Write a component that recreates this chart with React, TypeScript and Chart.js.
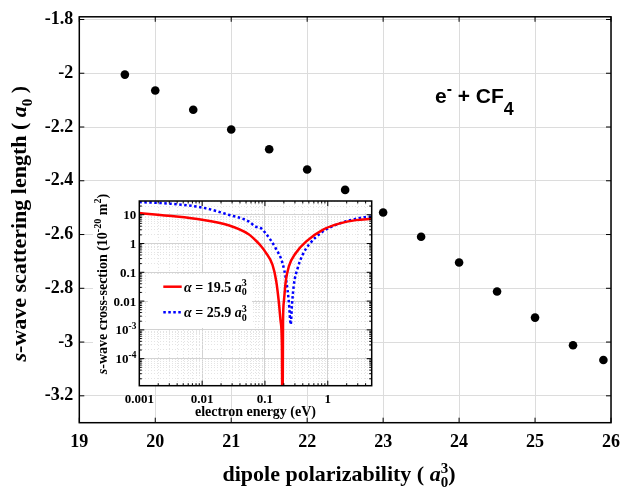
import React, { useEffect, useRef } from "react";
import { Chart, registerables } from "chart.js";

Chart.register(...registerables);

// ---------------- data ----------------
const polarizability = [19.6, 20, 20.5, 21, 21.5, 22, 22.5, 23, 23.5, 24, 24.5, 25, 25.5, 25.9];
const scatteringLength = [-2.005, -2.064, -2.136, -2.209, -2.283, -2.358, -2.434, -2.518, -2.608, -2.704, -2.812, -2.909, -3.012, -3.067];
const mainXTicks = [19, 20, 21, 22, 23, 24, 25, 26];
const mainYTicks = [-1.8, -2, -2.2, -2.4, -2.6, -2.8, -3, -3.2];

// inset: alpha = 19.5 a0^3 (red)
const energyRed = [0.001, 0.00288, 0.01, 0.0263, 0.055, 0.0708, 0.0851, 0.102, 0.132, 0.151, 0.166, 0.178, 0.186, 0.19, 0.194, 0.2, 0.214, 0.24, 0.31, 0.45, 0.83, 1.51, 2.82, 5];
const sigmaRed = [11.5, 9.2, 6.7, 4.3, 2.1, 1.3, 0.85, 0.5, 0.18, 0.05, 0.0096, 0.0019, 0.0003, 1e-7, 0.0019, 0.0096, 0.048, 0.16, 0.47, 1.17, 3.0, 4.9, 6.5, 7.2];
// inset: alpha = 25.9 a0^3 (blue)
const energyBlue = [0.001, 0.00288, 0.01, 0.0263, 0.055, 0.0708, 0.0851, 0.102, 0.148, 0.19, 0.219, 0.24, 0.257, 0.269, 0.288, 0.331, 0.398, 0.5, 0.83, 1.51, 2.82, 4.57, 5];
const sigmaBlue = [27.5, 24.5, 17.8, 10, 5.9, 3.9, 3.5, 2.3, 0.69, 0.21, 0.048, 0.0096, 0.00155, 0.0072, 0.036, 0.138, 0.41, 0.9, 2.6, 4.9, 7.2, 8.5, 8.2];

const insetXTicks = [0.001, 0.01, 0.1, 1];
const insetXLabels = ["0.001", "0.01", "0.1", "1"];
const insetYTicks = [10, 1, 0.1, 0.01, 0.001, 0.0001];
const insetYBase = ["10", "1", "0.1", "0.01", "10", "10"];
const insetYExp = ["", "", "", "", "-3", "-4"];

const SERIF = '"Liberation Serif", "Times New Roman", serif';
const SANS = '"Liberation Sans", Arial, sans-serif';

// ---------------- rich text helper ----------------
interface Seg {
  t?: string;
  it?: boolean;
  sc?: number;
  sup?: string;
  sub?: string;
  supDy?: number;
  subDy?: number;
}

function fontOf(size: number, it: boolean, family: string) {
  return `${it ? "italic " : ""}bold ${size}px ${family}`;
}

function segWidth(ctx: CanvasRenderingContext2D, s: Seg, size: number, family: string) {
  if (s.t !== undefined) {
    ctx.font = fontOf(size * (s.sc ?? 1), !!s.it, family);
    return ctx.measureText(s.t).width;
  }
  ctx.font = fontOf(size * (s.sc ?? 0.68), false, family);
  return Math.max(s.sup ? ctx.measureText(s.sup).width : 0, s.sub ? ctx.measureText(s.sub).width : 0);
}

function drawRich(
  ctx: CanvasRenderingContext2D,
  segs: Seg[],
  x: number,
  y: number,
  size: number,
  family: string,
  align: "left" | "center" | "right"
) {
  const widths = segs.map((s) => segWidth(ctx, s, size, family));
  const total = widths.reduce((a, b) => a + b, 0);
  let cx = align === "center" ? x - total / 2 : align === "right" ? x - total : x;
  ctx.textAlign = "left";
  ctx.textBaseline = "alphabetic";
  segs.forEach((s, i) => {
    if (s.t !== undefined) {
      ctx.font = fontOf(size * (s.sc ?? 1), !!s.it, family);
      ctx.fillText(s.t, cx, y);
    } else {
      ctx.font = fontOf(size * (s.sc ?? 0.68), false, family);
      if (s.sup) ctx.fillText(s.sup, cx, y - size * (s.supDy ?? 0.38));
      if (s.sub) ctx.fillText(s.sub, cx, y + size * (s.subDy ?? 0.28));
    }
    cx += widths[i];
  });
}

// ---------------- texts ----------------
const yTitle: Seg[] = [{ t: "s", it: true }, { t: "-wave scattering length ( " }, { t: "a", it: true }, { sub: "0" }, { t: " )" }];
const xTitle: Seg[] = [{ t: "dipole polarizability ( " }, { t: "a", it: true }, { sup: "3", sub: "0" }, { t: ")" }];
const annotation: Seg[] = [
  { t: "e" },
  { sup: "-", sc: 0.75, supDy: 0.45 },
  { t: " + CF" },
  { sub: "4", sc: 0.85, subDy: 0.55 },
];
const insetYTitle: Seg[] = [
  { t: "s", it: true },
  { t: "-wave cross-section (10" },
  { sup: "-20", sc: 0.72, supDy: 0.4 },
  { t: " m" },
  { sup: "2", sc: 0.72, supDy: 0.4 },
  { t: ")" },
];
const insetXTitle: Seg[] = [{ t: "electron energy (eV)" }];
const legendRed: Seg[] = [{ t: "α", it: true }, { t: " = 19.5 " }, { t: "a", it: true }, { sup: "3", sub: "0", sc: 0.72 }];
const legendBlue: Seg[] = [{ t: "α", it: true }, { t: " = 25.9 " }, { t: "a", it: true }, { sup: "3", sub: "0", sc: 0.72 }];

// ---------------- helpers ----------------
function isDecade(v: number) {
  const l = Math.log10(v);
  return Math.abs(l - Math.round(l)) < 1e-6;
}
function isLogStep(v: number) {
  const e = Math.floor(Math.log10(v) + 1e-9);
  const m = v / Math.pow(10, e);
  return Math.abs(m - Math.round(m)) < 1e-6;
}

const mainDecor = {
  id: "mainDecor",
  afterDraw(chart: any) {
    const { ctx, chartArea: a, scales } = chart;
    const xs = scales.x;
    const ys = scales.y;
    ctx.save();
    ctx.strokeStyle = "#000";
    ctx.lineWidth = 1;
    ctx.beginPath();
    mainXTicks.forEach((v) => {
      const px = xs.getPixelForValue(v);
      ctx.moveTo(px, a.bottom);
      ctx.lineTo(px, a.bottom - 5);
      ctx.moveTo(px, a.top);
      ctx.lineTo(px, a.top + 5);
    });
    mainYTicks.forEach((v) => {
      const py = ys.getPixelForValue(v);
      ctx.moveTo(a.left, py);
      ctx.lineTo(a.left + 5, py);
      ctx.moveTo(a.right, py);
      ctx.lineTo(a.right - 5, py);
    });
    ctx.stroke();
    ctx.lineWidth = 1.5;
    ctx.strokeRect(a.left, a.top, a.right - a.left, a.bottom - a.top);
    ctx.fillStyle = "#000";
    ctx.save();
    ctx.translate(25.5, (a.top + a.bottom) / 2 + 4);
    ctx.rotate(-Math.PI / 2);
    drawRich(ctx, yTitle, 0, 0, 22, SERIF, "center");
    ctx.restore();
    drawRich(ctx, xTitle, 339, 481, 22, SERIF, "center");
    drawRich(ctx, annotation, 435, 103, 21, SANS, "left");
    ctx.restore();
  },
};

const insetDecor = {
  id: "insetDecor",
  beforeDraw(chart: any) {
    const { ctx, chartArea: a } = chart;
    ctx.save();
    ctx.fillStyle = "#fff";
    ctx.fillRect(8, 5, a.left - 8, a.bottom - 5);
    ctx.fillRect(a.left, a.top, a.right - a.left, a.bottom - a.top);
    ctx.restore();
  },
  afterDatasetsDraw(chart: any) {
    const { ctx } = chart;
    // legend
    ctx.save();
    ctx.fillStyle = "#fff";
    ctx.fillRect(63, 94, 104, 54);
    ctx.lineWidth = 2.5;
    ctx.strokeStyle = "#ff0000";
    ctx.beginPath();
    ctx.moveTo(78.3, 106.7);
    ctx.lineTo(96.7, 106.7);
    ctx.stroke();
    ctx.strokeStyle = "#0000ff";
    ctx.setLineDash([2.5, 2.5]);
    ctx.beginPath();
    ctx.moveTo(78.3, 132.3);
    ctx.lineTo(96.7, 132.3);
    ctx.stroke();
    ctx.setLineDash([]);
    ctx.fillStyle = "#000";
    drawRich(ctx, legendRed, 99, 111.5, 14, SERIF, "left");
    drawRich(ctx, legendBlue, 99, 137, 14, SERIF, "left");
    ctx.restore();
  },
  afterDraw(chart: any) {
    const { ctx, chartArea: a, scales } = chart;
    const xs = scales.x;
    const ys = scales.y;
    ctx.save();
    ctx.strokeStyle = "#000";
    ctx.lineWidth = 1;
    ctx.beginPath();
    xs.ticks.forEach((t: any) => {
      const px = xs.getPixelForValue(t.value);
      if (px < a.left + 0.5 || px > a.right - 0.5) return;
      const len = isDecade(t.value) ? 5 : 2.5;
      ctx.moveTo(px, a.bottom);
      ctx.lineTo(px, a.bottom - len);
      ctx.moveTo(px, a.top);
      ctx.lineTo(px, a.top + len);
    });
    ys.ticks.forEach((t: any) => {
      const py = ys.getPixelForValue(t.value);
      if (py < a.top + 0.5 || py > a.bottom - 0.5) return;
      const len = isDecade(t.value) ? 5 : 2.5;
      ctx.moveTo(a.left, py);
      ctx.lineTo(a.left + len, py);
      ctx.moveTo(a.right, py);
      ctx.lineTo(a.right - len, py);
    });
    ctx.stroke();
    ctx.lineWidth = 1.5;
    ctx.strokeRect(a.left, a.top, a.right - a.left, a.bottom - a.top);
    ctx.fillStyle = "#000";
    insetXTicks.forEach((v, i) => {
      drawRich(ctx, [{ t: insetXLabels[i] }], xs.getPixelForValue(v), a.bottom + 17, 13, SERIF, "center");
    });
    insetYTicks.forEach((v, i) => {
      const py = ys.getPixelForValue(v);
      const segs: Seg[] = insetYExp[i]
        ? [{ t: insetYBase[i] }, { sup: insetYExp[i], sc: 0.72, supDy: 0.42 }]
        : [{ t: insetYBase[i] }];
      drawRich(ctx, segs, a.left - 3, py + 4.5, 13, SERIF, "right");
    });
    drawRich(ctx, insetXTitle, (a.left + a.right) / 2, 236, 14, SERIF, "center");
    ctx.save();
    ctx.translate(22, 104);
    ctx.rotate(-Math.PI / 2);
    drawRich(ctx, insetYTitle, 0, 0, 14, SERIF, "center");
    ctx.restore();
    ctx.restore();
  },
};

const gridColor = (c: any) => (c.tick && !isDecade(c.tick.value) ? "#e4e4e4" : "#d2d2d2");
const gridDash = (c: any) => (c.tick && !isDecade(c.tick.value) ? [1, 2] : []);

export default function App() {
  const mainRef = useRef<HTMLCanvasElement>(null);
  const insetRef = useRef<HTMLCanvasElement>(null);

  useEffect(() => {
    const tickFont = { family: SERIF, size: 18, weight: "bold" as const };
    const main = new Chart(mainRef.current!, {
      type: "scatter",
      data: {
        datasets: [
          {
            data: polarizability.map((x, i) => ({ x, y: scatteringLength[i] })),
            pointRadius: 4.3,
            pointBackgroundColor: "#000",
            pointBorderColor: "#000",
            pointBorderWidth: 0,
            showLine: false,
          },
        ],
      },
      options: {
        responsive: false,
        animation: false,
        devicePixelRatio: 1,
        layout: { padding: { left: 0, top: 12.7, right: 7.3, bottom: 0 } },
        plugins: { legend: { display: false }, tooltip: { enabled: false } },
        scales: {
          x: {
            type: "linear",
            min: 19,
            max: 26,
            afterBuildTicks: (s: any) => {
              s.ticks = mainXTicks.map((v) => ({ value: v }));
            },
            afterFit: (s: any) => {
              s.height = 70.3;
            },
            grid: { color: "#dcdcdc", lineWidth: 1, drawTicks: false },
            border: { display: false },
            ticks: {
              padding: 9,
              font: tickFont,
              color: "#000",
              maxRotation: 0,
              autoSkip: false,
              callback: (v: any) => String(v),
            },
          },
          y: {
            type: "linear",
            min: -3.3,
            max: -1.79,
            afterBuildTicks: (s: any) => {
              s.ticks = mainYTicks.map((v) => ({ value: v }));
            },
            afterFit: (s: any) => {
              s.width = 79.3;
            },
            grid: { color: "#dcdcdc", lineWidth: 1, drawTicks: false },
            border: { display: false },
            ticks: {
              padding: 6,
              font: tickFont,
              color: "#000",
              autoSkip: false,
              callback: (v: any) => String(parseFloat(Number(v).toFixed(2))),
            },
          },
        },
      },
      plugins: [mainDecor],
    });

    const inset = new Chart(insetRef.current!, {
      type: "scatter",
      data: {
        datasets: [
          {
            data: energyRed.map((x, i) => ({ x, y: sigmaRed[i] })),
            borderColor: "#ff0000",
            borderWidth: 2.5,
            pointRadius: 0,
            showLine: true,
            fill: false,
            cubicInterpolationMode: "monotone",
            clip: 0,
          },
          {
            data: energyBlue.map((x, i) => ({ x, y: sigmaBlue[i] })),
            borderColor: "#0000ff",
            borderWidth: 2.5,
            borderDash: [2.5, 2.5],
            pointRadius: 0,
            showLine: true,
            fill: false,
            cubicInterpolationMode: "monotone",
            clip: 0,
          },
        ],
      },
      options: {
        responsive: false,
        animation: false,
        devicePixelRatio: 1,
        layout: { padding: { left: 0, top: 21, right: 8.3, bottom: 0 } },
        plugins: { legend: { display: false }, tooltip: { enabled: false } },
        scales: {
          x: {
            type: "logarithmic",
            min: 0.001,
            max: 5,
            afterBuildTicks: (s: any) => {
              s.ticks = s.ticks.filter((t: any) => isLogStep(t.value));
            },
            afterFit: (s: any) => {
              s.height = 39.3;
            },
            grid: { color: gridColor, lineWidth: 1, drawTicks: false },
            border: { display: false, dash: gridDash },
            ticks: { display: false },
          },
          y: {
            type: "logarithmic",
            min: 1.15e-5,
            max: 30,
            afterBuildTicks: (s: any) => {
              s.ticks = s.ticks.filter((t: any) => isLogStep(t.value));
            },
            afterFit: (s: any) => {
              s.width = 54.3;
            },
            grid: { color: gridColor, lineWidth: 1, drawTicks: false },
            border: { display: false, dash: gridDash },
            ticks: { display: false },
          },
        },
      },
      plugins: [insetDecor],
    });

    return () => {
      main.destroy();
      inset.destroy();
    };
  }, []);

  return (
    <div style={{ position: "absolute", left: 0, top: 0, width: 629, height: 493, background: "#fff" }}>
      <canvas ref={mainRef} width={629} height={493} style={{ position: "absolute", left: 0, top: 0 }} />
      <canvas ref={insetRef} width={295} height={245} style={{ position: "absolute", left: 85, top: 180 }} />
    </div>
  );
}
